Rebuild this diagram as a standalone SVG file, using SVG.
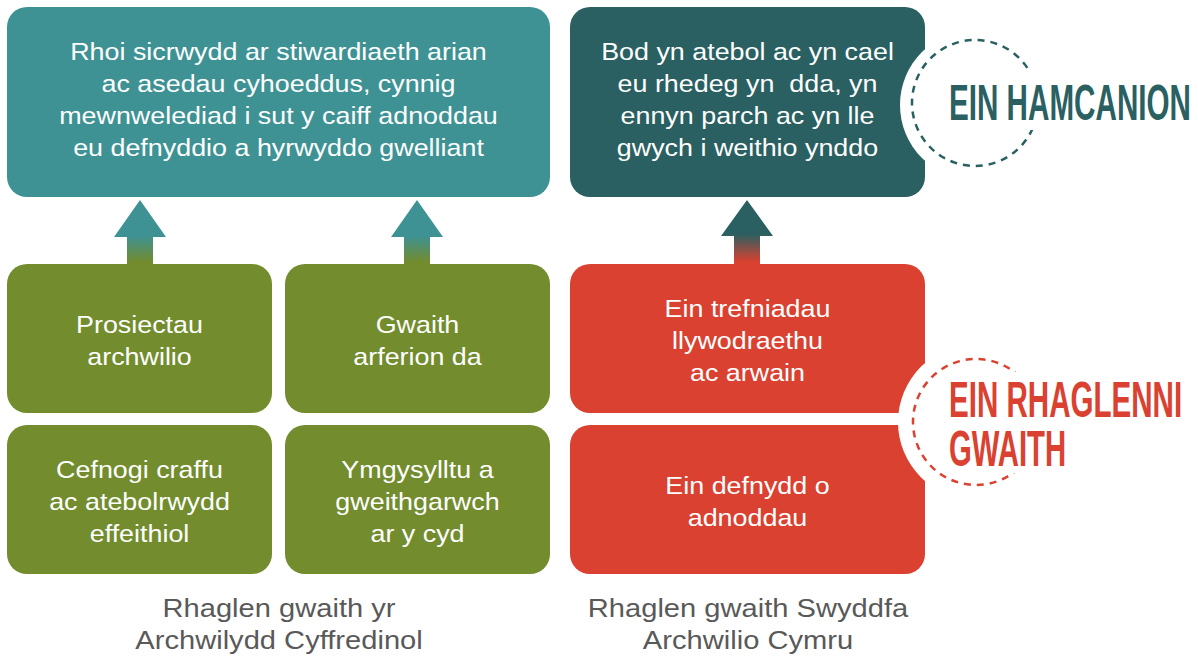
<svg xmlns="http://www.w3.org/2000/svg" width="1198" height="659" viewBox="0 0 1198 659">
<style>
.t{font-family:"Liberation Sans",Arial,sans-serif;font-size:24px;fill:#ffffff;text-anchor:middle}
.f{font-family:"Liberation Sans",Arial,sans-serif;font-size:26px;fill:#595959;text-anchor:middle}
.h{font-family:"Liberation Sans",Arial,sans-serif;font-weight:bold;font-size:50px}
.teal{fill:#3E9294}.dark{fill:#2A6061}.green{fill:#728C2E}.red{fill:#DA4130}
</style>
<defs>
<linearGradient id="gTG" gradientUnits="userSpaceOnUse" x1="0" y1="236" x2="0" y2="262">
<stop offset="0" stop-color="#3E9294"/><stop offset="1" stop-color="#728C2E"/>
</linearGradient>
<linearGradient id="gDR" gradientUnits="userSpaceOnUse" x1="0" y1="234" x2="0" y2="262">
<stop offset="0" stop-color="#2A6061"/><stop offset="1" stop-color="#DA4130"/>
</linearGradient>
</defs>
<rect width="1198" height="659" fill="#ffffff"/>

<g id="connectors">
<polygon points="140,200 114,237 127,237 127,266 153,266 153,237 166,237" fill="url(#gTG)"/>
<polygon points="417,200 391,237 404,237 404,266 430,266 430,237 443,237" fill="url(#gTG)"/>
<polygon points="747,200 721,236 734,236 734,266 760,266 760,236 773,236" fill="url(#gDR)"/>
</g>

<g id="aim-left">
<rect x="7" y="7" width="543" height="190" rx="20" class="teal"/>
<g transform="translate(278.5 0) scale(1.12 1)">
<text class="t" x="0" y="60">Rhoi sicrwydd ar stiwardiaeth arian</text>
<text class="t" x="0" y="92">ac asedau cyhoeddus, cynnig</text>
<text class="t" x="0" y="124">mewnwelediad i sut y caiff adnoddau</text>
<text class="t" x="0" y="156">eu defnyddio a hyrwyddo gwelliant</text>
</g>
</g>

<g id="aim-right">
<rect x="570" y="7" width="355" height="190" rx="20" class="dark"/>
<g transform="translate(747.5 0) scale(1.12 1)">
<text class="t" x="0" y="60">Bod yn atebol ac yn cael</text>
<text class="t" x="0" y="92" xml:space="preserve">eu rhedeg yn  dda, yn</text>
<text class="t" x="0" y="124">ennyn parch ac yn lle</text>
<text class="t" x="0" y="156">gwych i weithio ynddo</text>
</g>
</g>

<g id="g1">
<rect x="7" y="264" width="265" height="149" rx="20" class="green"/>
<g transform="translate(139.5 0) scale(1.12 1)">
<text class="t" x="0" y="333">Prosiectau</text>
<text class="t" x="0" y="365">archwilio</text>
</g>
</g>
<g id="g2">
<rect x="285" y="264" width="265" height="149" rx="20" class="green"/>
<g transform="translate(417.5 0) scale(1.12 1)">
<text class="t" x="0" y="333">Gwaith</text>
<text class="t" x="0" y="365">arferion da</text>
</g>
</g>
<g id="g3">
<rect x="7" y="425" width="265" height="149" rx="20" class="green"/>
<g transform="translate(139.5 0) scale(1.12 1)">
<text class="t" x="0" y="478">Cefnogi craffu</text>
<text class="t" x="0" y="510">ac atebolrwydd</text>
<text class="t" x="0" y="542">effeithiol</text>
</g>
</g>
<g id="g4">
<rect x="285" y="425" width="265" height="149" rx="20" class="green"/>
<g transform="translate(417.5 0) scale(1.12 1)">
<text class="t" x="0" y="478">Ymgysylltu a</text>
<text class="t" x="0" y="510">gweithgarwch</text>
<text class="t" x="0" y="542">ar y cyd</text>
</g>
</g>

<g id="r1">
<rect x="570" y="264" width="355" height="149" rx="20" class="red"/>
<g transform="translate(747.5 0) scale(1.12 1)">
<text class="t" x="0" y="317">Ein trefniadau</text>
<text class="t" x="0" y="349">llywodraethu</text>
<text class="t" x="0" y="381">ac arwain</text>
</g>
</g>
<g id="r2">
<rect x="570" y="425" width="355" height="149" rx="20" class="red"/>
<g transform="translate(747.5 0) scale(1.12 1)">
<text class="t" x="0" y="494">Ein defnydd o</text>
<text class="t" x="0" y="526">adnoddau</text>
</g>
</g>

<g id="label-aims">
<circle cx="975" cy="105" r="75" fill="#ffffff"/>
<circle cx="975" cy="103" r="63" fill="none" stroke="#2A6061" stroke-width="2.5" stroke-dasharray="7 6"/>
<rect x="942" y="72" width="254" height="58" fill="#ffffff"/>
<g transform="translate(949 0) scale(0.593 1)">
<text class="h" x="0" y="120" fill="#2A6061" textLength="408" lengthAdjust="spacingAndGlyphs">EIN HAMCANION</text>
</g>
</g>

<g id="label-programmes">
<circle cx="976" cy="422" r="78" fill="#ffffff"/>
<circle cx="976" cy="422" r="63" fill="none" stroke="#DA4130" stroke-width="2.5" stroke-dasharray="7 6"/>
<rect x="942" y="372" width="250" height="101" fill="#ffffff"/>
<g transform="translate(949 0) scale(0.58 1)">
<text class="h" x="0" y="417" fill="#DA4130" textLength="402" lengthAdjust="spacingAndGlyphs">EIN RHAGLENNI</text>
<text class="h" x="0" y="466" fill="#DA4130" textLength="202" lengthAdjust="spacingAndGlyphs">GWAITH</text>
</g>
</g>

<g id="footer-left">
<g transform="translate(279 0) scale(1.12 1)">
<text class="f" x="0" y="617">Rhaglen gwaith yr</text>
<text class="f" x="0" y="649">Archwilydd Cyffredinol</text>
</g>
</g>
<g id="footer-right">
<g transform="translate(748 0) scale(1.12 1)">
<text class="f" x="0" y="617">Rhaglen gwaith Swyddfa</text>
<text class="f" x="0" y="649">Archwilio Cymru</text>
</g>
</g>
</svg>
